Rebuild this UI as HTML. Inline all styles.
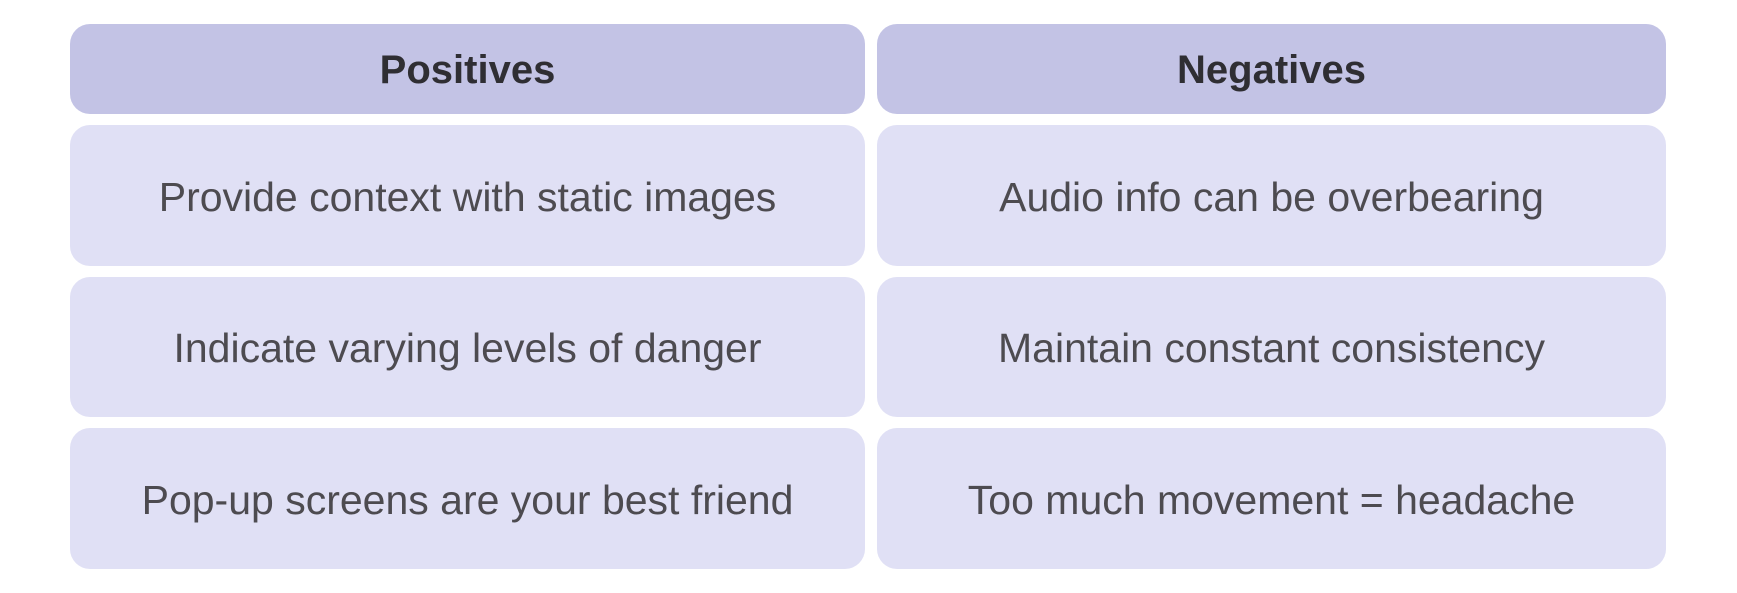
<!DOCTYPE html>
<html><head><meta charset="utf-8"><style>
body{margin:0;width:1737px;height:593px;background:#fff;position:relative;overflow:hidden;font-family:"Liberation Sans",sans-serif;}
.c{position:absolute;display:flex;align-items:center;justify-content:center;border-radius:20px;background:#e0e0f5;color:#4d4b50;font-size:41px;padding-top:3px;box-sizing:border-box;}
.h{background:#c3c3e5;color:#2f2e33;font-weight:bold;font-size:40px;}
</style></head><body>
<div class="c h" style="left:70px;top:24px;width:795px;height:90px">Positives</div>
<div class="c h" style="left:877px;top:24px;width:789px;height:90px">Negatives</div>
<div class="c" style="left:70px;top:125px;width:795px;height:141px">Provide context with static images</div>
<div class="c" style="left:877px;top:125px;width:789px;height:141px">Audio info can be overbearing</div>
<div class="c" style="left:70px;top:277px;width:795px;height:140px">Indicate varying levels of danger</div>
<div class="c" style="left:877px;top:277px;width:789px;height:140px">Maintain constant consistency</div>
<div class="c" style="left:70px;top:428px;width:795px;height:141px">Pop-up screens are your best friend</div>
<div class="c" style="left:877px;top:428px;width:789px;height:141px">Too much movement = headache</div>
</body></html>
